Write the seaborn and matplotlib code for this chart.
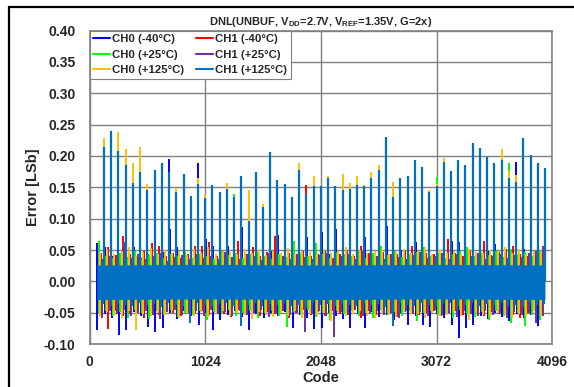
import numpy as np
import pandas as pd
import matplotlib
matplotlib.use('Agg')
import matplotlib.pyplot as plt
from matplotlib.lines import Line2D
import seaborn as sns

# ========== dados ==========
SERIES = ['CH0 (-40°C)', 'CH1 (-40°C)', 'CH0 (+25°C)', 'CH1 (+25°C)', 'CH0 (+125°C)', 'CH1 (+125°C)']
COLORS = ['#0000FF', '#FF0000', '#00FF00', '#7030A0', '#FFC000', '#0070C0']

# segmentos de 64 codes entre os picos (64 .. 4032)
SEG_START = np.arange(64, 4032, 64)
SPIKE_CODES = np.arange(128, 4033, 64)

# pico (DNL) do CH1 (+125°C) em cada code multiplo de 64
CH1_P125_SPIKE = [
    0.215, 0.240, 0.208, 0.185, 0.157, 0.175, 0.146, 0.177, 0.188, 0.175,
    0.143, 0.172, 0.136, 0.155, 0.133, 0.153, 0.143, 0.147, 0.134, 0.168,
    0.096, 0.174, 0.118, 0.206, 0.162, 0.156, 0.135, 0.178, 0.140, 0.152,
    0.152, 0.165, 0.152, 0.146, 0.147, 0.153, 0.152, 0.165, 0.178, 0.230,
    0.135, 0.165, 0.168, 0.193, 0.182, 0.143, 0.152, 0.190, 0.176, 0.194,
    0.185, 0.220, 0.212, 0.199, 0.189, 0.193, 0.165, 0.158, 0.229, 0.202,
    0.189, 0.180]

# picos das outras series que aparecem acima do CH1 (+125°C)
CH0_M40_SPIKE_CODES = [704, 960, 3776]
CH0_M40_SPIKE = [0.195, 0.188, 0.190]
CH1_M40_SPIKE_CODES = [1920]
CH1_M40_SPIKE = [0.154]
CH0_P25_SPIKE_CODES = [1280, 3072, 3712]
CH0_P25_SPIKE = [0.139, 0.166, 0.189]
CH1_P25_SPIKE_CODES = []
CH1_P25_SPIKE = []
CH0_P125_SPIKE_CODES = [128, 256, 320, 384, 448, 512, 768, 960, 1024, 1216,
                        1408, 1536, 1856, 1984, 2112, 2240, 2304, 2368, 2432, 2496,
                        2560, 2688, 3008, 3072, 3136, 3648, 3712, 3776]
CH0_P125_SPIKE = [0.228, 0.238, 0.211, 0.188, 0.215, 0.155, 0.149, 0.165, 0.140, 0.157,
                  0.145, 0.123, 0.188, 0.168, 0.168, 0.172, 0.157, 0.168, 0.153, 0.174,
                  0.186, 0.158, 0.146, 0.155, 0.196, 0.211, 0.176, 0.170]

# ruido: maximo e minimo de cada serie em cada segmento
CH0_M40_HI = [
    0.061, 0.054, 0.041, 0.046, 0.059, 0.054, 0.038, 0.044, 0.036, 0.047,
    0.084, 0.054, 0.062, 0.065, 0.042, 0.068, 0.057, 0.064, 0.056, 0.039,
    0.087, 0.080, 0.043, 0.037, 0.048, 0.074, 0.076, 0.045, 0.041, 0.070,
    0.049, 0.079, 0.044, 0.084, 0.054, 0.046, 0.039, 0.071, 0.043, 0.048,
    0.088, 0.041, 0.050, 0.076, 0.063, 0.044, 0.040, 0.055, 0.047, 0.064,
    0.062, 0.045, 0.063, 0.041, 0.049, 0.060, 0.044, 0.050, 0.043, 0.052,
    0.079, 0.058]
CH0_M40_LO = [
    -0.077, -0.052, -0.058, -0.085, -0.078, -0.049, -0.055, -0.073, -0.081, -0.074,
    -0.051, -0.060, -0.047, -0.056, -0.069, -0.050, -0.078, -0.061, -0.054, -0.048,
    -0.057, -0.077, -0.052, -0.059, -0.050, -0.055, -0.049, -0.074, -0.053, -0.058,
    -0.076, -0.074, -0.051, -0.056, -0.060, -0.074, -0.052, -0.074, -0.049, -0.057,
    -0.054, -0.062, -0.050, -0.069, -0.055, -0.069, -0.073, -0.052, -0.058, -0.069,
    -0.090, -0.074, -0.069, -0.055, -0.060, -0.051, -0.057, -0.063, -0.052, -0.058,
    -0.054, -0.071]
CH1_M40_HI = [
    0.046, 0.054, 0.042, 0.073, 0.044, 0.039, 0.048, 0.061, 0.057, 0.041,
    0.045, 0.037, 0.043, 0.057, 0.057, 0.063, 0.040, 0.046, 0.038, 0.065,
    0.044, 0.054, 0.041, 0.047, 0.072, 0.039, 0.045, 0.042, 0.049, 0.040,
    0.044, 0.048, 0.038, 0.043, 0.050, 0.041, 0.057, 0.045, 0.039, 0.047,
    0.042, 0.044, 0.049, 0.057, 0.040, 0.046, 0.043, 0.039, 0.067, 0.045,
    0.041, 0.048, 0.044, 0.064, 0.042, 0.047, 0.052, 0.057, 0.043, 0.040,
    0.046, 0.044]
CH1_M40_LO = [
    -0.050, -0.076, -0.047, -0.055, -0.052, -0.044, -0.058, -0.049, -0.053, -0.046,
    -0.051, -0.056, -0.045, -0.050, -0.048, -0.054, -0.047, -0.052, -0.057, -0.046,
    -0.050, -0.044, -0.055, -0.049, -0.052, -0.047, -0.058, -0.051, -0.045, -0.053,
    -0.049, -0.056, -0.047, -0.052, -0.050, -0.046, -0.059, -0.048, -0.053, -0.045,
    -0.051, -0.057, -0.049, -0.046, -0.054, -0.050, -0.047, -0.055, -0.051, -0.048,
    -0.053, -0.046, -0.050, -0.056, -0.049, -0.052, -0.047, -0.054, -0.058, -0.050,
    -0.046, -0.053]
CH0_P25_HI = [
    0.064, 0.041, 0.037, 0.045, 0.039, 0.048, 0.036, 0.042, 0.046, 0.038,
    0.043, 0.040, 0.047, 0.037, 0.044, 0.041, 0.036, 0.049, 0.042, 0.045,
    0.038, 0.043, 0.047, 0.040, 0.036, 0.044, 0.039, 0.065, 0.046, 0.041,
    0.061, 0.043, 0.038, 0.047, 0.044, 0.040, 0.049, 0.037, 0.045, 0.056,
    0.042, 0.048, 0.039, 0.044, 0.047, 0.055, 0.041, 0.046, 0.038, 0.043,
    0.049, 0.055, 0.040, 0.045, 0.042, 0.048, 0.039, 0.051, 0.044, 0.047,
    0.041, 0.050]
CH0_P25_LO = [
    -0.052, -0.047, -0.055, -0.049, -0.058, -0.045, -0.051, -0.060, -0.048, -0.053,
    -0.046, -0.057, -0.050, -0.054, -0.047, -0.062, -0.049, -0.052, -0.046, -0.056,
    -0.050, -0.048, -0.059, -0.051, -0.047, -0.055, -0.073, -0.049, -0.053, -0.046,
    -0.057, -0.050, -0.061, -0.048, -0.052, -0.047, -0.055, -0.050, -0.058, -0.046,
    -0.053, -0.049, -0.056, -0.048, -0.063, -0.051, -0.047, -0.054, -0.050, -0.059,
    -0.046, -0.052, -0.057, -0.049, -0.061, -0.048, -0.055, -0.066, -0.051, -0.071,
    -0.053, -0.062]
CH1_P25_HI = [
    0.036, 0.041, 0.034, 0.062, 0.038, 0.043, 0.035, 0.040, 0.046, 0.033,
    0.039, 0.042, 0.036, 0.044, 0.038, 0.041, 0.035, 0.047, 0.039, 0.036,
    0.043, 0.040, 0.034, 0.045, 0.038, 0.041, 0.036, 0.044, 0.039, 0.035,
    0.042, 0.046, 0.037, 0.040, 0.043, 0.035, 0.048, 0.038, 0.041, 0.036,
    0.044, 0.039, 0.035, 0.042, 0.047, 0.037, 0.040, 0.045, 0.036, 0.043,
    0.038, 0.041, 0.046, 0.035, 0.040, 0.044, 0.037, 0.042, 0.039, 0.045,
    0.049, 0.057]
CH1_P25_LO = [
    -0.058, -0.048, -0.052, -0.045, -0.055, -0.050, -0.047, -0.053, -0.060, -0.049,
    -0.046, -0.054, -0.051, -0.048, -0.056, -0.045, -0.052, -0.049, -0.055, -0.047,
    -0.053, -0.050, -0.046, -0.057, -0.051, -0.048, -0.054, -0.050, -0.080, -0.052,
    -0.047, -0.055, -0.088, -0.049, -0.053, -0.046, -0.056, -0.051, -0.048, -0.054,
    -0.050, -0.058, -0.047, -0.052, -0.049, -0.055, -0.046, -0.053, -0.050, -0.057,
    -0.048, -0.052, -0.055, -0.047, -0.054, -0.050, -0.058, -0.049, -0.053, -0.051,
    -0.066, -0.056]
CH0_P125_HI = [
    0.046, 0.052, 0.043, 0.049, 0.055, 0.041, 0.047, 0.053, 0.044, 0.050,
    0.045, 0.048, 0.042, 0.051, 0.046, 0.054, 0.043, 0.049, 0.047, 0.044,
    0.052, 0.045, 0.050, 0.042, 0.048, 0.046, 0.053, 0.044, 0.049, 0.047,
    0.043, 0.051, 0.046, 0.048, 0.055, 0.044, 0.050, 0.045, 0.049, 0.052,
    0.043, 0.047, 0.051, 0.045, 0.048, 0.053, 0.044, 0.050, 0.046, 0.049,
    0.043, 0.052, 0.047, 0.045, 0.050, 0.048, 0.055, 0.046, 0.052, 0.044,
    0.049, 0.047]
CH0_P125_LO = [
    -0.055, -0.049, -0.053, -0.058, -0.047, -0.077, -0.052, -0.056, -0.050, -0.054,
    -0.048, -0.059, -0.051, -0.055, -0.049, -0.057, -0.052, -0.048, -0.056, -0.050,
    -0.054, -0.060, -0.049, -0.053, -0.057, -0.051, -0.055, -0.048, -0.058, -0.052,
    -0.054, -0.050, -0.063, -0.049, -0.056, -0.052, -0.048, -0.055, -0.059, -0.051,
    -0.053, -0.057, -0.049, -0.054, -0.052, -0.058, -0.050, -0.056, -0.053, -0.049,
    -0.055, -0.061, -0.051, -0.054, -0.057, -0.050, -0.053, -0.059, -0.052, -0.055,
    -0.048, -0.056]
CH1_P125_HI = [
    0.032, 0.034, 0.031, 0.035, 0.033, 0.030, 0.036, 0.032, 0.034, 0.031,
    0.033, 0.035, 0.030, 0.034, 0.032, 0.036, 0.031, 0.033, 0.035, 0.032,
    0.030, 0.034, 0.033, 0.031, 0.036, 0.032, 0.034, 0.030, 0.035, 0.033,
    0.031, 0.034, 0.032, 0.036, 0.030, 0.033, 0.035, 0.031, 0.034, 0.032,
    0.033, 0.030, 0.036, 0.031, 0.034, 0.032, 0.035, 0.033, 0.030, 0.034,
    0.031, 0.036, 0.032, 0.033, 0.035, 0.030, 0.034, 0.031, 0.033, 0.036,
    0.032, 0.034]
CH1_P125_LO = [
    -0.036, -0.039, -0.034, -0.037, -0.040, -0.035, -0.038, -0.036, -0.041, -0.034,
    -0.037, -0.039, -0.066, -0.035, -0.038, -0.040, -0.036, -0.034, -0.039, -0.072,
    -0.037, -0.035, -0.040, -0.036, -0.038, -0.034, -0.039, -0.037, -0.041, -0.035,
    -0.038, -0.036, -0.040, -0.034, -0.037, -0.039, -0.035, -0.038, -0.036, -0.041,
    -0.071, -0.034, -0.037, -0.039, -0.035, -0.038, -0.040, -0.036, -0.034, -0.039,
    -0.037, -0.035, -0.040, -0.036, -0.038, -0.034, -0.039, -0.037, -0.041, -0.035,
    -0.038, -0.036]

# faixa solida do CH1 (+125°C)
CORE_CODES = [64, 1024, 2048, 3072, 4032]
CORE_HI = [0.026, 0.027, 0.026, 0.027, 0.026]
CORE_LO = [-0.029, -0.028, -0.029, -0.028, -0.029]

X_TICKS = [0, 1024, 2048, 3072, 4096]
Y_TICKS = [-0.10, -0.05, 0.00, 0.05, 0.10, 0.15, 0.20, 0.25, 0.30, 0.35, 0.40]

NOISE = [(CH0_M40_HI, CH0_M40_LO), (CH1_M40_HI, CH1_M40_LO), (CH0_P25_HI, CH0_P25_LO),
         (CH1_P25_HI, CH1_P25_LO), (CH0_P125_HI, CH0_P125_LO), (CH1_P125_HI, CH1_P125_LO)]
SPIKES = [(CH0_M40_SPIKE_CODES, CH0_M40_SPIKE), (CH1_M40_SPIKE_CODES, CH1_M40_SPIKE),
          (CH0_P25_SPIKE_CODES, CH0_P25_SPIKE), (CH1_P25_SPIKE_CODES, CH1_P25_SPIKE),
          (CH0_P125_SPIKE_CODES, CH0_P125_SPIKE), (SPIKE_CODES, CH1_P125_SPIKE)]
# posicao de cada serie dentro do segmento (deslocamento em codes)
OFFSETS = [6, 38, 17, 49, 28, 59]

# ========== tabela longa: cada traco vertical e uma "unit" ==========
frames = []
unit = 0
for name, (hi, lo), (sc, sv), off in zip(SERIES, NOISE, SPIKES, OFFSETS):
    n = len(hi)
    codes = np.concatenate([SEG_START + off, SEG_START + off,
                            np.asarray(sc, dtype=float), np.asarray(sc, dtype=float)])
    vals = np.concatenate([lo, hi, np.zeros(len(sv)), sv])
    units = np.concatenate([np.arange(n), np.arange(n),
                            n + np.arange(len(sv)), n + np.arange(len(sv))]) + unit
    unit += n + len(sv)
    frames.append(pd.DataFrame({'code': codes, 'error': vals, 'series': name, 'unit': units}))
df = pd.concat(frames, ignore_index=True)

# ========== grafico ==========
sns.set_style('white')
plt.rcParams['font.family'] = ['Liberation Sans', 'DejaVu Sans']
plt.rcParams['font.weight'] = 'bold'
plt.rcParams['mathtext.fontset'] = 'custom'
plt.rcParams['mathtext.rm'] = 'Liberation Sans'

fig = plt.figure(figsize=(5.74, 3.87), dpi=100)
ax = fig.add_axes([0.156, 0.111, 0.806, 0.810])

sns.lineplot(data=df, x='code', y='error', hue='series', hue_order=SERIES,
             palette=COLORS, units='unit', estimator=None, linewidth=1.4,
             legend=False, ax=ax)
for line in ax.lines:
    line.set_solid_capstyle('butt')
# faixa solida e picos do CH1 (+125°C) por cima
ax.fill_between(CORE_CODES, CORE_LO, CORE_HI, color=COLORS[-1], lw=0, zorder=2.2)
ax.vlines(SPIKE_CODES, 0, CH1_P125_SPIKE, color=COLORS[-1], lw=1.6, zorder=2.5)

ax.set_xlim(0, 4096)
ax.set_ylim(-0.10, 0.40)
ax.set_xticks(X_TICKS)
ax.set_yticks(Y_TICKS)
ax.set_yticklabels([f'{v:.2f}' for v in Y_TICKS])
ax.tick_params(length=0, labelsize=10)
ax.tick_params(axis='y', pad=10)
ax.tick_params(axis='x', pad=8)
ax.grid(True, color='#808080', lw=1.0)
ax.set_axisbelow(True)
for s in ax.spines.values():
    s.set_color('#808080')
    s.set_linewidth(1.2)

ax.set_xlabel('Code', fontsize=10.5, fontweight='bold', labelpad=1)
ax.set_ylabel('Error [LSb]', fontsize=10.5, fontweight='bold', labelpad=3)
ax.set_title(r'DNL(UNBUF, V$_{\rm DD}$=2.7V, V$_{\rm REF}$=1.35V, G=2x)',
             fontsize=8, fontweight='bold', pad=4)

handles = [Line2D([], [], color=c, lw=1.5) for c in COLORS]
order = [0, 2, 4, 1, 3, 5]
leg = ax.legend([handles[i] for i in order], [SERIES[i] for i in order],
                ncol=2, loc='upper left', bbox_to_anchor=(0, 1), borderaxespad=0,
                prop={'size': 8.2, 'weight': 'bold'}, handlelength=1.5,
                handletextpad=0.15, columnspacing=1.1, labelspacing=0.5,
                borderpad=0.3, fancybox=False, framealpha=1, edgecolor='#808080')
leg.get_frame().set_linewidth(0.8)
leg.set_zorder(10)

# moldura externa
fig.add_artist(Line2D([0.0157, 0.0157], [0, 0.981], color='black', lw=1.6))
fig.add_artist(Line2D([0.0157, 1], [0.981, 0.981], color='black', lw=1.6))

fig.savefig('out.png', dpi=100)
